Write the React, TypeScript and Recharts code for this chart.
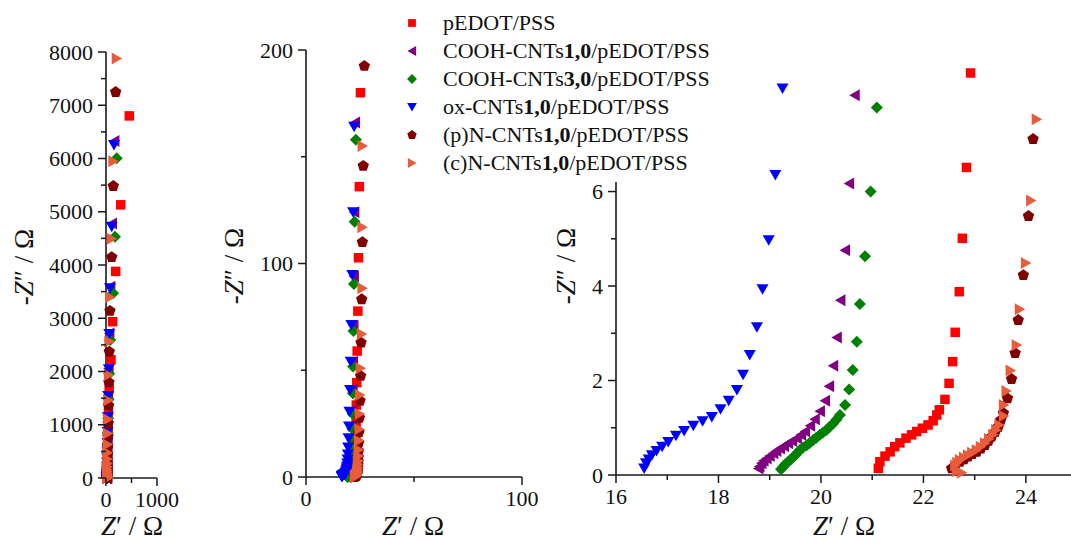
import React from "react";
import { ScatterChart, Scatter, XAxis, YAxis, ReferenceLine } from "recharts";

type Pt = [number, number]; // [Z', -Z'']

// pEDOT/PSS
const pedotPss: Pt[] = [
  [21.12, 0.14], [21.15, 0.28], [21.25, 0.4], [21.35, 0.49], [21.44, 0.6], [21.54, 0.68],
  [21.66, 0.78], [21.77, 0.85], [21.87, 0.92], [21.98, 0.99], [22.09, 1.06], [22.19, 1.15],
  [22.26, 1.27], [22.31, 1.38], [22.42, 1.6], [22.5, 1.94], [22.57, 2.4], [22.62, 3.02],
  [22.7, 3.88], [22.76, 5.01], [22.84, 6.51], [22.92, 8.51], [23.0, 11.1], [23.05, 14.6],
  [23.1, 19.2], [23.2, 25.4], [23.3, 33.7], [23.5, 44.2], [23.7, 59], [24.0, 77.7],
  [24.3, 102.7], [24.7, 136], [25.2, 180], [26, 238], [27.5, 315], [29.5, 416], [32, 550],
  [36, 727], [41, 961], [49, 1270], [62, 1680], [98, 2220], [131, 2935], [190, 3880],
  [288, 5130], [457, 6800],
];

// COOH-CNTs 1,0 / pEDOT/PSS
const cooh10: Pt[] = [
  [18.78, 0.14], [18.8, 0.18], [18.84, 0.25], [18.88, 0.3], [18.94, 0.35], [19.0, 0.4],
  [19.07, 0.46], [19.13, 0.51], [19.2, 0.56], [19.28, 0.61], [19.36, 0.67], [19.44, 0.72],
  [19.53, 0.78], [19.61, 0.85], [19.69, 0.92], [19.79, 1.04], [19.88, 1.18], [19.98, 1.35],
  [20.08, 1.57], [20.16, 1.88], [20.24, 2.31], [20.31, 2.91], [20.38, 3.7], [20.47, 4.76],
  [20.55, 6.17], [20.66, 8.04], [20.8, 10.4], [20.9, 13.7], [21.05, 18], [21.2, 23.6],
  [21.4, 31], [21.6, 41], [21.8, 54], [22.0, 71], [22.2, 94], [22.4, 124], [22.7, 166],
  [23.3, 220], [24.2, 290], [25.5, 383], [27, 505], [29.5, 668], [32.5, 883], [37, 1167],
  [43, 1545], [52, 2050], [66, 2715], [84, 3590], [118, 4780], [165, 6330],
];

// COOH-CNTs 3,0 / pEDOT/PSS
const cooh30: Pt[] = [
  [19.22, 0.12], [19.26, 0.17], [19.3, 0.22], [19.35, 0.27], [19.4, 0.32], [19.45, 0.37],
  [19.5, 0.42], [19.54, 0.47], [19.59, 0.53], [19.65, 0.58], [19.72, 0.63], [19.78, 0.68],
  [19.85, 0.74], [19.91, 0.79], [19.98, 0.85], [20.04, 0.9], [20.11, 0.95], [20.17, 1.02],
  [20.24, 1.09], [20.3, 1.17], [20.37, 1.27], [20.47, 1.48], [20.55, 1.81], [20.62, 2.22],
  [20.7, 2.82], [20.76, 3.62], [20.86, 4.63], [20.97, 6.0], [21.09, 7.78], [21.2, 10.1],
  [21.3, 13.2], [21.4, 17.3], [21.5, 22.6], [21.6, 29.6], [21.7, 39.2], [21.8, 51.7],
  [22.0, 68.4], [22.2, 90.4], [22.5, 119.6], [23.1, 158], [23.8, 209], [24.8, 276], [26, 366],
  [28, 484], [31, 640], [35, 846], [41, 1119], [50, 1480], [63, 1958], [82, 2590],
  [140, 3470], [176, 4531], [210, 6004],
];

// ox-CNTs 1,0 / pEDOT/PSS
const oxCnt: Pt[] = [
  [16.55, 0.14], [16.585, 0.25], [16.64, 0.33], [16.7, 0.42], [16.79, 0.51], [16.9, 0.6],
  [17.02, 0.7], [17.17, 0.83], [17.33, 0.93], [17.51, 1.04], [17.69, 1.14], [17.87, 1.23],
  [18.04, 1.39], [18.2, 1.57], [18.36, 1.8], [18.48, 2.12], [18.61, 2.54], [18.75, 3.13],
  [18.86, 3.93], [18.98, 4.97], [19.11, 6.35], [19.25, 8.18], [19.4, 10.5], [19.5, 13.8],
  [19.7, 18.1], [19.9, 23.6], [20.1, 30.6], [20.4, 40.7], [20.7, 54], [21.0, 71.2],
  [21.4, 94.6], [21.8, 124], [22.3, 164], [23, 216], [24, 285], [25.5, 376], [27, 497],
  [29, 656], [32, 866], [36, 1143], [42, 1540], [55, 2040], [65, 2704], [78, 3562],
  [112, 4720], [157, 6254],
];

// (p)N-CNTs 1,0 / pEDOT/PSS
const pNCnt: Pt[] = [
  [22.55, 0.14], [22.62, 0.2], [22.71, 0.28], [22.79, 0.33], [22.87, 0.39], [22.95, 0.44],
  [23.04, 0.49], [23.12, 0.56], [23.2, 0.63], [23.27, 0.72], [23.33, 0.81], [23.4, 0.91],
  [23.46, 1.02], [23.51, 1.16], [23.56, 1.31], [23.64, 1.62], [23.72, 2.03], [23.79, 2.58],
  [23.85, 3.28], [23.95, 4.23], [24.05, 5.48], [24.14, 7.11], [24.2, 9.2], [24.3, 12.1],
  [24.4, 16], [24.5, 21], [24.7, 27.7], [25.0, 35.7], [25.3, 47.3], [25.5, 62.9],
  [25.8, 83.2], [26.1, 110], [26.5, 145.7], [27.0, 192.5], [28, 254], [29.5, 336],
  [31.5, 445], [34, 588], [38, 777], [43, 1027], [50, 1358], [57, 1795], [65, 2373],
  [78, 3137], [112, 4147], [143, 5483], [190, 7248],
];

// (c)N-CNTs 1,0 / pEDOT/PSS
const cNCnt: Pt[] = [
  [22.65, 0.08], [22.75, 0.05], [22.62, 0.2], [22.66, 0.26], [22.71, 0.32], [22.79, 0.37],
  [22.87, 0.42], [22.95, 0.47], [23.04, 0.53], [23.12, 0.6], [23.2, 0.67], [23.28, 0.76],
  [23.36, 0.85], [23.42, 0.95], [23.48, 1.06], [23.57, 1.25], [23.57, 1.48], [23.62, 1.78],
  [23.7, 2.21], [23.82, 2.75], [23.88, 3.51], [24.0, 4.49], [24.1, 5.81], [24.21, 7.53],
  [24.3, 9.8], [24.4, 12.8], [24.5, 17], [24.7, 22.4], [24.85, 29.5], [25.0, 38.4],
  [25.3, 50.9], [25.8, 67], [26.1, 88.4], [26.1, 117], [26.2, 155], [27, 205], [28, 271],
  [29.5, 359], [31.5, 476], [34, 630], [37, 834], [42, 1104], [48, 1462], [56, 1936],
  [65, 2563], [78, 3393], [112, 4493], [143, 5949], [210, 7876],
];

// legend labels: [text, bold]
const legendLabels: [string, boolean][][] = [
  [["pEDOT/PSS", false]],
  [["COOH-CNTs", false], ["1,0", true], ["/pEDOT/PSS", false]],
  [["COOH-CNTs", false], ["3,0", true], ["/pEDOT/PSS", false]],
  [["ox-CNTs", false], ["1,0", true], ["/pEDOT/PSS", false]],
  [["(p)N-CNTs", false], ["1,0", true], ["/pEDOT/PSS", false]],
  [["(c)N-CNTs", false], ["1,0", true], ["/pEDOT/PSS", false]],
];

// ticks
const leftYTicks = [0, 500, 1000, 1500, 2000, 2500, 3000, 3500, 4000, 4500, 5000, 5500, 6000, 6500, 7000, 7500, 8000];
const leftYMajor = [0, 1000, 2000, 3000, 4000, 5000, 6000, 7000, 8000];
const leftXTicks = [0, 500, 1000];
const leftXMajor = [0, 1000];
const midYTicks = [0, 50, 100, 150, 200];
const midYMajor = [0, 100, 200];
const midXTicks = [0, 50, 100];
const midXMajor = [0, 100];
const rightYTicks = [0, 1, 2, 3, 4, 5, 6];
const rightYMajor = [0, 2, 4, 6];
const rightXTicks = [16, 17, 18, 19, 20, 21, 22, 23, 24];
const rightXMajor = [16, 18, 20, 22, 24];

const FONT = "'Liberation Serif', 'Times New Roman', serif";
const AXIS = "#1a1a1a";
const txt = { fontFamily: FONT };

type Kind = "square" | "left" | "diamond" | "down" | "pentagon" | "right";

const series: { key: string; data: Pt[]; color: string; kind: Kind }[] = [
  { key: "pedot", data: pedotPss, color: "#ff0000", kind: "square" },
  { key: "cooh10", data: cooh10, color: "#800080", kind: "left" },
  { key: "cooh30", data: cooh30, color: "#008000", kind: "diamond" },
  { key: "ox", data: oxCnt, color: "#0000ff", kind: "down" },
  { key: "pn", data: pNCnt, color: "#800000", kind: "pentagon" },
  { key: "cn", data: cNCnt, color: "#e85c3c", kind: "right" },
];

function Marker({ kind, cx, cy, color, s = 1 }: { kind: Kind; cx: number; cy: number; color: string; s?: number }) {
  if (cx == null || cy == null) return null;
  const pts = (arr: number[][]) => arr.map(([a, b]) => `${cx + a * s},${cy + b * s}`).join(" ");
  switch (kind) {
    case "square":
      return <rect x={cx - 4.75 * s} y={cy - 4.75 * s} width={9.5 * s} height={9.5 * s} fill={color} />;
    case "left":
      return <polygon points={pts([[-5.5, 0], [5, -6], [5, 6]])} fill={color} />;
    case "right":
      return <polygon points={pts([[5.5, 0], [-5, -6], [-5, 6]])} fill={color} />;
    case "diamond":
      return <polygon points={pts([[0, -6], [6, 0], [0, 6], [-6, 0]])} fill={color} />;
    case "down":
      return <polygon points={pts([[-6, -5], [6, -5], [0, 5.5]])} fill={color} />;
    case "pentagon": {
      const arr: number[][] = [];
      for (let i = 0; i < 5; i++) {
        const a = -Math.PI / 2 + (i * 2 * Math.PI) / 5;
        arr.push([6 * Math.cos(a), 6 * Math.sin(a)]);
      }
      return <polygon points={pts(arr)} fill={color} />;
    }
  }
  return null;
}

function yTick(majors: number[]) {
  return (props: any) => {
    const { x, y, payload } = props;
    const major = majors.includes(payload.value);
    return (
      <g>
        <line x1={x - (major ? 8 : 5)} x2={x} y1={y} y2={y} stroke={AXIS} strokeWidth={1.5} />
        {major && (
          <text x={x - 13} y={y + 7.5} textAnchor="end" fontSize={22} style={txt} fill="#111">
            {payload.value}
          </text>
        )}
      </g>
    );
  };
}

function xTick(majors: number[]) {
  return (props: any) => {
    const { x, y, payload } = props;
    const major = majors.includes(payload.value);
    return (
      <g>
        <line x1={x} x2={x} y1={y} y2={y + (major ? 8 : 5)} stroke={AXIS} strokeWidth={1.5} />
        {major && (
          <text x={x} y={y + 29} textAnchor="middle" fontSize={22} style={txt} fill="#111">
            {payload.value}
          </text>
        )}
      </g>
    );
  };
}

function pick(data: Pt[], x0: number, x1: number, yMax: number) {
  return data.filter(([x, y]) => x >= x0 && x <= x1 && y >= 0 && y <= yMax).map(([x, y]) => ({ x, y }));
}

function Panel({
  width, margin, yWidth, xHeight, xDomain, yDomain, xTicks, xMajor, yTicks, yMajor, yLine,
}: {
  width: number;
  margin: { top: number; right: number; bottom: number; left: number };
  yWidth: number;
  xHeight: number;
  xDomain: [number, number];
  yDomain: [number, number];
  xTicks: number[];
  xMajor: number[];
  yTicks: number[];
  yMajor: number[];
  yLine?: number;
}) {
  return (
    <ScatterChart width={width} height={542} margin={margin}>
      <XAxis
        type="number"
        dataKey="x"
        domain={xDomain}
        ticks={xTicks}
        interval={0}
        height={xHeight}
        tickSize={0}
        tickMargin={0}
        tickLine={false}
        axisLine={{ stroke: AXIS, strokeWidth: 1.6 }}
        tick={xTick(xMajor)}
      />
      <YAxis
        type="number"
        dataKey="y"
        domain={yDomain}
        ticks={yTicks}
        interval={0}
        width={yWidth}
        tickSize={0}
        tickMargin={0}
        tickLine={false}
        axisLine={yLine == null ? { stroke: AXIS, strokeWidth: 1.6 } : false}
        tick={yTick(yMajor)}
      />
      {yLine != null && (
        <ReferenceLine
          segment={[{ x: xDomain[0], y: 0 }, { x: xDomain[0], y: yLine }]}
          stroke={AXIS}
          strokeWidth={1.6}
        />
      )}
      {series.map((s) => (
        <Scatter
          key={s.key}
          data={pick(s.data, xDomain[0], xDomain[1], yDomain[1])}
          isAnimationActive={false}
          shape={(p: any) => <Marker kind={s.kind} cx={p.cx} cy={p.cy} color={s.color} />}
        />
      ))}
    </ScatterChart>
  );
}

function XTitle({ x, y }: { x: number; y: number }) {
  return (
    <text x={x} y={y} textAnchor="middle" fontSize={27} style={txt} fill="#111">
      <tspan fontStyle="italic">Z</tspan>′ / Ω
    </text>
  );
}

function YTitle({ x, y }: { x: number; y: number }) {
  return (
    <text x={x} y={y} transform={`rotate(-90 ${x} ${y})`} textAnchor="middle" fontSize={27} style={txt} fill="#111">
      -<tspan fontStyle="italic">Z</tspan>″ / Ω
    </text>
  );
}

export default function App() {
  return (
    <div style={{ position: "absolute", left: 0, top: 0, width: 1071, height: 542, background: "#fff", overflow: "hidden" }}>
      <div style={{ position: "absolute", left: 0, top: 0 }}>
        <Panel
          width={230}
          margin={{ top: 52, right: 73, bottom: 0, left: 0 }}
          yWidth={106}
          xHeight={64}
          xDomain={[0, 1000]}
          yDomain={[0, 8000]}
          xTicks={leftXTicks}
          xMajor={leftXMajor}
          yTicks={leftYTicks}
          yMajor={leftYMajor}
        />
      </div>
      <div style={{ position: "absolute", left: 200, top: 0 }}>
        <Panel
          width={360}
          margin={{ top: 50, right: 38, bottom: 0, left: 0 }}
          yWidth={106}
          xHeight={65}
          xDomain={[0, 100]}
          yDomain={[0, 200]}
          xTicks={midXTicks}
          xMajor={midXMajor}
          yTicks={midYTicks}
          yMajor={midYMajor}
        />
      </div>
      <div style={{ position: "absolute", left: 520, top: 0 }}>
        <Panel
          width={551}
          margin={{ top: 64, right: 0, bottom: 0, left: 0 }}
          yWidth={96}
          xHeight={67}
          xDomain={[16, 24.88]}
          yDomain={[0, 8.7]}
          xTicks={rightXTicks}
          xMajor={rightXMajor}
          yTicks={rightYTicks}
          yMajor={rightYMajor}
          yLine={6.2}
        />
      </div>
      <svg width={1071} height={542} style={{ position: "absolute", left: 0, top: 0, pointerEvents: "none" }}>
        <XTitle x={132} y={535} />
        <XTitle x={413} y={535} />
        <XTitle x={844} y={535} />
        <YTitle x={33} y={267} />
        <YTitle x={243} y={266} />
        <YTitle x={575} y={266} />
      </svg>
      <div style={{ position: "absolute", left: 400, top: 9, fontFamily: FONT, fontSize: 22, color: "#111" }}>
        {series.map((s, i) => (
          <div key={s.key} style={{ height: 28, lineHeight: "28px", display: "flex", alignItems: "center", whiteSpace: "nowrap" }}>
            <svg width={24} height={28} style={{ flex: "none" }}>
              <Marker kind={s.kind} cx={12} cy={14} color={s.color} s={0.82} />
            </svg>
            <span style={{ marginLeft: 19 }}>
              {legendLabels[i].map(([t, b], j) => (
                <span key={j} style={{ fontWeight: b ? "bold" : "normal" }}>{t}</span>
              ))}
            </span>
          </div>
        ))}
      </div>
    </div>
  );
}
